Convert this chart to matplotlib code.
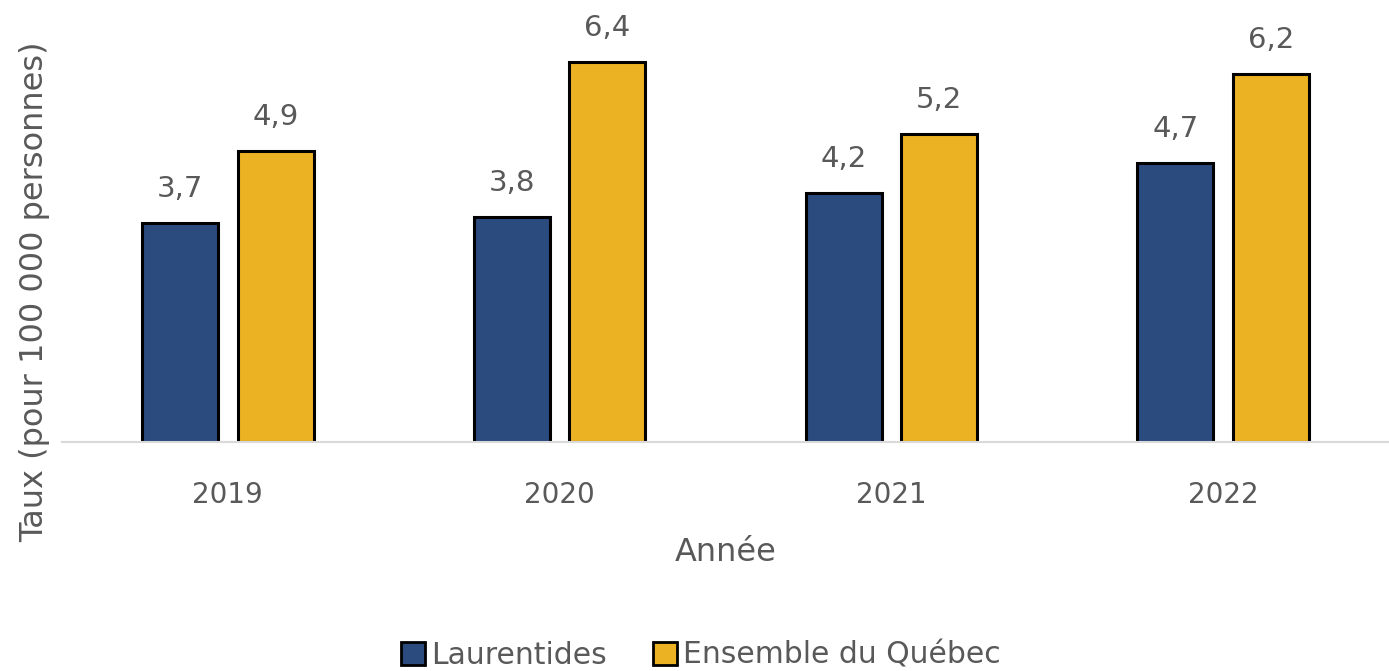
import matplotlib.pyplot as plt
import numpy as np
from matplotlib.patches import Patch

# data
annees = ["2019", "2020", "2021", "2022"]
laurentides = [3.7, 3.8, 4.2, 4.7]
quebec = [4.9, 6.4, 5.2, 6.2]
etiq_laur = ["3,7", "3,8", "4,2", "4,7"]
etiq_qc = ["4,9", "6,4", "5,2", "6,2"]

bleu = "#2B4A7E"
jaune = "#EBB223"
gris = "#595959"

plt.rcParams['font.family'] = ['DejaVu Sans']

fig = plt.figure(figsize=(13.89, 6.71), dpi=100)
ax = fig.add_axes([62/1389, 1-442/671, 1-62/1389, 442/671])

x = np.arange(len(annees))
w = 0.229
off = 0.144
b1 = ax.bar(x - off, laurentides, w, color=bleu, edgecolor="black", linewidth=2.2)
b2 = ax.bar(x + off, quebec, w, color=jaune, edgecolor="black", linewidth=2.2)

for xi, v, t in zip(x - off, laurentides, etiq_laur):
    ax.annotate(t, (xi, v), xytext=(0, 20), textcoords="offset pixels",
                ha="center", va="bottom", fontsize=21, color=gris)
for xi, v, t in zip(x + off, quebec, etiq_qc):
    ax.annotate(t, (xi, v), xytext=(0, 20), textcoords="offset pixels",
                ha="center", va="bottom", fontsize=21, color=gris)

ax.set_xlim(-0.5, 3.5)
ax.set_ylim(0, 442/59.3)
ax.set_xticks(x)
ax.set_xticklabels(annees, fontsize=20, color=gris)
ax.tick_params(axis="x", length=0, pad=28)
ax.set_yticks([])
for s in ["top", "right", "left"]:
    ax.spines[s].set_visible(False)
ax.spines["bottom"].set_color("#D9D9D9")
ax.spines["bottom"].set_linewidth(1.5)

ax.set_xlabel("Année", fontsize=23, color=gris, labelpad=20)
fig.text(35/1389, 1-292/671, "Taux (pour 100 000 personnes)", rotation=90,
         ha="center", va="center", fontsize=23, color=gris)

handles = [Patch(facecolor=bleu, edgecolor="black", linewidth=2),
           Patch(facecolor=jaune, edgecolor="black", linewidth=2)]
fig.legend(handles, ["Laurentides", "Ensemble du Québec"], loc="center",
           bbox_to_anchor=(701/1389, 1-655/671), ncol=2, frameon=False,
           fontsize=21.5, labelcolor=gris, handlelength=0.8, handleheight=0.8,
           handletextpad=0.2, columnspacing=1.55)

fig.savefig("out.png", dpi=100)
